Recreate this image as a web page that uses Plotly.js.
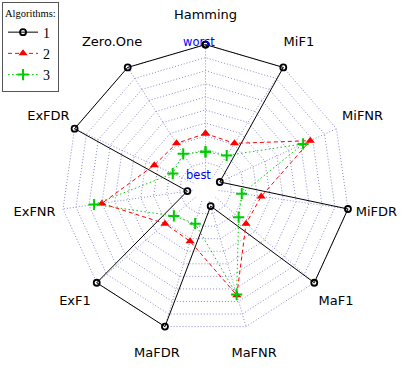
<!DOCTYPE html>
<html><head><meta charset="utf-8">
<script src="https://cdn.plot.ly/plotly-3.0.1.min.js"></script>
<style>html,body{margin:0;padding:0;background:#fff}#chart{width:407px;height:379px}</style>
</head><body><div id="chart"></div>
<script>
const categories = ["Hamming","MiF1","MiFNR","MiFDR","MaF1","MaFNR","MaFDR","ExF1","ExFNR","ExFDR","Zero.One"];
const algo1 = [1, 1, 0.02, 1, 1, 0.04, 1, 1, 0.04, 1, 1];
const algo2 = [0.32, 0.31, 0.78, 0.33, 0.31, 0.75, 0.32, 0.31, 0.70, 0.33, 0.31];
const algo3 = [0.18, 0.20, 0.72, 0.18, 0.235, 0.745, 0.18, 0.22, 0.76, 0.175, 0.215];
const seriesNames = ["1", "2", "3"];
const gridLevels = [0, 0.1, 0.2, 0.3, 0.4, 0.5, 0.6, 0.7, 0.8, 0.9, 1];

const W = 407, H = 379;
const cx = 205.3, cy = 188.5, fullPx = 144;       // geometry of the radar
const segs = gridLevels.length - 1;
const holePx = fullPx / (segs + 1);
const unitPx = fullPx - holePx;
const labelR = (1.2 * (segs + 1) - 1) / segs;
const rMax = labelR + 0.006;
const rOut = holePx + rMax * unitPx;

const close = a => a.concat([a[0]]);
const thetaClosed = close(categories);

const gridColor = '#8a8ad0';

// spokes from the inner ring to the outer ring
const spokeR = [], spokeT = [];
categories.forEach(c => { spokeR.push(0, 1, null); spokeT.push(c, c, null); });
const traces = [{
  type: 'scatterpolar', mode: 'lines', r: spokeR, theta: spokeT, connectgaps: false,
  line: {color: gridColor, width: 1, dash: '1px,2px'}, showlegend: false, hoverinfo: 'skip'
}];

const styles = [
  {line: {color: '#000000', width: 1, dash: 'solid'}, marker: {symbol: 'circle-open', size: 6, color: '#000000', line: {width: 1.8, color: '#000000'}}},
  {line: {color: '#ff0000', width: 1, dash: '4px,3px'}, marker: {symbol: 'triangle-up', size: 8, color: '#ff0000'}},
  {line: {color: '#00cd00', width: 1, dash: '1.5px,2.5px'}, marker: {symbol: 'cross-thin', size: 8, color: '#00cd00', line: {width: 2, color: '#00cd00'}}}
];
[algo1, algo2, algo3].forEach((vals, i) => traces.push({
  type: 'scatterpolar', mode: 'lines+markers',
  r: close(vals), theta: thetaClosed, name: seriesNames[i],
  line: styles[i].line, marker: styles[i].marker, cliponaxis: false
}));

traces.push({
  type: 'scatterpolar', mode: 'text',
  r: categories.map(() => labelR), theta: categories, text: categories,
  textposition: 'middle center',
  textfont: {family: 'DejaVu Sans', size: 13, color: '#000'},
  cliponaxis: false, showlegend: false, hoverinfo: 'skip'
});

const mL = cx - rOut, mR = W - cx - rOut, mT = cy - rOut, mB = H - cy - rOut;
const side = 2 * rOut;
const px2paperX = x => (x - mL) / side;
const px2paperY = y => 1 - (y - mT) / side;

const layout = {
  width: W, height: H,
  margin: {l: mL, r: mR, t: mT, b: mB, pad: 0, autoexpand: false},
  paper_bgcolor: '#fff',
  showlegend: true,
  polar: {
    domain: {x: [0, 1], y: [0, 1]},
    hole: holePx / rOut,
    gridshape: 'linear',
    bgcolor: 'rgba(0,0,0,0)',
    radialaxis: {range: [0, rMax], tickvals: gridLevels, showticklabels: false, ticks: '', showline: false,
                 gridcolor: gridColor, griddash: '1px,2px', gridwidth: 1},
    angularaxis: {type: 'category', categoryarray: categories, direction: 'clockwise', rotation: 90,
                  showticklabels: false, ticks: '', showline: false, showgrid: false}
  },
  annotations: [
    {text: 'worst', xref: 'paper', yref: 'paper', x: px2paperX(198.5), y: px2paperY(41.7), showarrow: false,
     font: {family: 'DejaVu Sans', size: 11.5, color: '#0000ff'}, xanchor: 'center', yanchor: 'middle'},
    {text: 'best', xref: 'paper', yref: 'paper', x: px2paperX(198.5), y: px2paperY(175), showarrow: false,
     font: {family: 'DejaVu Sans', size: 11.5, color: '#0000ff'}, xanchor: 'center', yanchor: 'middle'}
  ],
  legend: {
    xref: 'container', yref: 'container', x: 0.005, y: 0.995, xanchor: 'left', yanchor: 'top',
    bordercolor: '#555', borderwidth: 1, bgcolor: '#fff',
    font: {family: 'Liberation Serif', size: 14, color: '#000'},
    title: {text: 'Algorithms:', font: {family: 'Liberation Serif', size: 10.5, color: '#000'}, side: 'top'},
    itemwidth: 30, tracegroupgap: 0
  }
};

Plotly.newPlot('chart', traces, layout, {displayModeBar: false, staticPlot: true});
</script>
</body></html>
